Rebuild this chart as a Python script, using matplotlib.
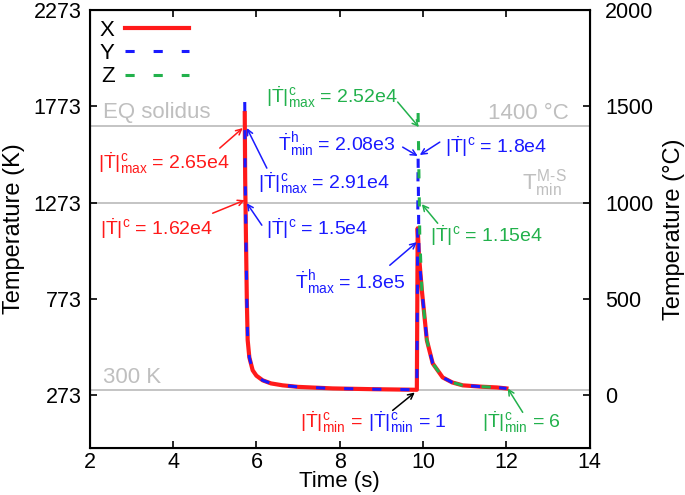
import numpy as np
import matplotlib.pyplot as plt

plt.rcParams['font.family'] = ['Liberation Sans', 'DejaVu Sans']
plt.rcParams['mathtext.fontset'] = 'custom'
plt.rcParams['mathtext.rm'] = 'Liberation Sans'
plt.rcParams['mathtext.it'] = 'Liberation Sans'
plt.rcParams['mathtext.bf'] = 'Liberation Sans:bold'

# temperature histories (K) of the three points
x_time = [5.72, 5.73, 5.75, 5.77, 5.79, 5.83, 5.91, 6.0, 6.15, 6.35, 6.63, 7.0, 7.83, 8.8, 9.85,
          9.87, 9.9, 9.97, 10.09, 10.23, 10.47, 10.7, 10.95, 11.4, 11.77, 12.0]
x_temp = [1738, 1400, 1078, 767, 560, 470, 403, 375, 351, 335, 325, 317, 309, 305, 302,
          1140, 1000, 818, 559, 439, 366, 340, 325, 318, 314, 309]

y_time = [5.72, 5.73, 5.75, 5.77, 5.79, 5.83, 5.91, 6.0, 6.15, 6.35, 6.63, 7.0, 7.83, 8.8, 9.85,
          9.88, 9.9, 9.97, 10.09, 10.23, 10.47, 10.7, 10.95, 11.4, 11.77, 12.0]
y_temp = [1795, 1400, 1078, 767, 560, 470, 403, 375, 351, 335, 325, 317, 309, 305, 302,
          1515, 1000, 818, 559, 439, 366, 340, 325, 318, 314, 309]

z_time = [9.88, 9.92, 9.97, 10.09, 10.23, 10.47, 10.7, 10.95, 11.4, 11.77, 12.0]
z_temp = [1738, 1100, 818, 559, 439, 366, 340, 325, 318, 314, 309]

# reference temperatures (K)
ref_temps = [1673, 1273, 300]

k_ticks = [273, 773, 1273, 1773, 2273]
c_ticks = [0, 500, 1000, 1500, 2000]

red = '#ff1a1a'
blue = '#1a1aff'
green = '#22b14c'
gray = '#bfbfbf'

fig, ax = plt.subplots(figsize=(6.85, 4.95), dpi=100)
fig.subplots_adjust(left=0.131, right=0.861, top=0.980, bottom=0.095)

for t in ref_temps:
    ax.axhline(t, color=gray, lw=1.3, zorder=1)

ax.plot(x_time, x_temp, color=red, lw=3, label='X', zorder=3)
ax.plot(y_time, y_temp, color=blue, lw=2.2, dashes=(3, 6.2), label='Y', zorder=4)
ax.plot(z_time, z_temp, color=green, lw=2.2, dashes=(3, 6.2), label='Z', zorder=5)

ax.set_xlim(2, 14)
ax.set_ylim(0, 2273)
ax.set_xticks(np.arange(2, 15, 2))
ax.set_yticks(k_ticks)
ax.tick_params(direction='in', length=5, width=1.2, labelsize=15.5, top=True)
ax.tick_params(axis='y', pad=6)
ax.tick_params(axis='x', pad=3)
ax.set_xlabel('Time (s)', fontsize=16, labelpad=-1.5)
ax.set_ylabel('Temperature (K)', fontsize=17, labelpad=6)
for s in ax.spines.values():
    s.set_linewidth(1.5)

ax2 = ax.twinx()
ax2.set_ylim(-273, 2000)
ax2.set_yticks(c_ticks)
ax2.tick_params(direction='in', length=5, width=1.2, labelsize=15.5, pad=11)
ax2.set_ylabel('Temperature (°C)', fontsize=17, labelpad=7)

ax.legend(loc='upper left', frameon=False, markerfirst=False, fontsize=16,
          handlelength=2.9, handletextpad=0.45, labelspacing=0.1,
          borderaxespad=0.2, borderpad=0.25)

# gray reference labels
ax.text(2.31, 1743, 'EQ solidus', color=gray, fontsize=16, va='center', ha='left')
ax.text(13.5, 1738, '1400 °C', color=gray, fontsize=16, va='center', ha='right')
ax.text(13.45, 1374, r'$T^{\text{M-S}}_{min}$', color=gray, fontsize=16, va='center', ha='right')
ax.text(2.31, 366, '300 K', color=gray, fontsize=16, va='center', ha='left')

# rate annotations
fs = 14
ax.text(2.19, 1478, r'$|\dot{T}|^{c}_{max}$ = 2.65e4', color=red, fontsize=fs, va='center', ha='left')
ax.text(4.95, 1140, r'$|\dot{T}|^{c}$ = 1.62e4', color=red, fontsize=fs, va='center', ha='right')
ax.text(6.03, 1374, r'$|\dot{T}|^{c}_{max}$ = 2.91e4', color=blue, fontsize=fs, va='center', ha='left')
ax.text(6.22, 1140, r'$|\dot{T}|^{c}$ = 1.5e4', color=blue, fontsize=fs, va='center', ha='left')
ax.text(6.22, 1821, r'$|\dot{T}|^{c}_{max}$ = 2.52e4', color=green, fontsize=fs, va='center', ha='left')
ax.text(6.51, 1572, r'$\dot{T}^{h}_{min}$ = 2.08e3', color=blue, fontsize=fs, va='center', ha='left')
ax.text(10.52, 1561, r'$|\dot{T}|^{c}$ = 1.8e4', color=blue, fontsize=fs, va='center', ha='left')
ax.text(10.16, 1104, r'$|\dot{T}|^{c}$ = 1.15e4', color=green, fontsize=fs, va='center', ha='left')
ax.text(6.92, 855, r'$\dot{T}^{h}_{max}$ = 1.8e5', color=blue, fontsize=fs, va='center', ha='left')
ax.text(7.04, 133, r'$|\dot{T}|^{c}_{min}$ =', color=red, fontsize=fs, va='center', ha='left')
ax.text(8.67, 133, r'$|\dot{T}|^{c}_{min}$ = 1', color=blue, fontsize=fs, va='center', ha='left')
ax.text(11.41, 133, r'$|\dot{T}|^{c}_{min}$ = 6', color=green, fontsize=fs, va='center', ha='left')

# arrows: (tail, head, color)
arrows = [
    ((5.12, 1556), (5.672, 1660), red),
    ((4.95, 1218), (5.72, 1286), red),
    ((6.25, 1452), (5.77, 1660), blue),
    ((6.13, 1156), (5.77, 1270), blue),
    ((9.39, 1795), (9.90, 1665), green),
    ((9.51, 1561), (9.87, 1515), blue),
    ((10.40, 1587), (9.92, 1520), blue),
    ((10.35, 1166), (9.97, 1265), green),
    ((9.20, 948), (9.85, 1068), blue),
    ((9.27, 195), (9.80, 288), 'black'),
    ((12.39, 185), (12.03, 309), green),
]
for tail, head, c in arrows:
    ax.annotate('', xy=head, xytext=tail,
                arrowprops=dict(arrowstyle='->', color=c, lw=1.1, shrinkA=0, shrinkB=0))

fig.savefig('out.png', dpi=100)
